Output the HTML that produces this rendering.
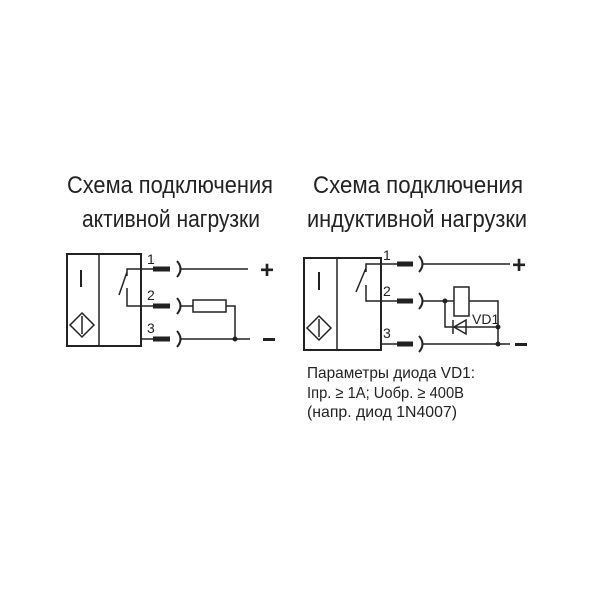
<!DOCTYPE html>
<html><head><meta charset="utf-8"><style>body{margin:0;background:#fff}svg{display:block}</style></head>
<body>
<svg width="600" height="600" viewBox="0 0 600 600" xmlns="http://www.w3.org/2000/svg" font-family="'Liberation Sans Narrow','Liberation Sans',sans-serif" fill="#222">
<g font-size="24">
<text x="67" y="193" textLength="206" lengthAdjust="spacingAndGlyphs">Схема подключения</text>
<text x="82" y="227" textLength="178" lengthAdjust="spacingAndGlyphs">активной нагрузки</text>
<text x="313" y="193" textLength="210" lengthAdjust="spacingAndGlyphs">Схема подключения</text>
<text x="307" y="227" textLength="220" lengthAdjust="spacingAndGlyphs">индуктивной нагрузки</text>
</g>
<g font-size="16">
<text x="307" y="378" textLength="168" lengthAdjust="spacingAndGlyphs">Параметры диода VD1:</text>
<text x="307" y="398" textLength="157" lengthAdjust="spacingAndGlyphs">Iпр. ≥ 1А; Uобр. ≥ 400В</text>
<text x="307" y="417" textLength="150" lengthAdjust="spacingAndGlyphs">(напр. диод 1N4007)</text>
</g>
<g stroke="#222" fill="none" stroke-width="1.5">
<rect x="67" y="254" width="74" height="92" stroke-width="2"/>
<line x1="99" y1="254" x2="99" y2="346"/>
<line x1="81" y1="270" x2="81" y2="287" stroke-width="2"/>
<path d="M82 313 L94 325 L82 337 L70 325 Z"/>
<line x1="82" y1="316" x2="82" y2="334"/>
<path d="M153 269 H127 V276 M127 272 L119 295 M127 288 V306 H153"/>
<line x1="141" y1="339" x2="153" y2="339"/>
<g stroke-width="5"><line x1="153" y1="269" x2="170" y2="269"/><line x1="153" y1="306" x2="170" y2="306"/><line x1="153" y1="339" x2="170" y2="339"/></g>
<g stroke-width="2"><path d="M177 261 Q184 269 177 277 M177 298 Q184 306 177 314 M177 331 Q184 339 177 347"/></g>
<line x1="181" y1="269" x2="248" y2="269"/>
<line x1="181" y1="306" x2="193" y2="306"/>
<rect x="193" y="300" width="33" height="12"/>
<path d="M226 306 H235 V339"/>
<line x1="181" y1="339" x2="250" y2="339"/>
<rect x="304" y="258" width="77" height="92" stroke-width="2"/>
<line x1="337" y1="258" x2="337" y2="350"/>
<line x1="319" y1="272" x2="319" y2="290" stroke-width="2"/>
<path d="M319 316 L331 328 L319 340 L307 328 Z"/>
<line x1="319" y1="319" x2="319" y2="337"/>
<path d="M397 264 H366 V272 M366 268 L356 292 M366 285 V301 H397"/>
<line x1="381" y1="344" x2="397" y2="344"/>
<g stroke-width="5"><line x1="397" y1="264" x2="413" y2="264"/><line x1="397" y1="301" x2="413" y2="301"/><line x1="397" y1="344" x2="413" y2="344"/></g>
<g stroke-width="2"><path d="M419 256 Q426 264 419 272 M419 293 Q426 301 419 309 M419 336 Q426 344 419 352"/></g>
<line x1="423" y1="264" x2="510" y2="264"/>
<line x1="423" y1="301" x2="454" y2="301"/>
<rect x="454" y="287" width="15" height="29"/>
<path d="M469 301 H498 V344"/>
<path d="M445 301 V327 H498"/>
<path d="M466 320 L466 334 L454 327 Z"/>
<line x1="453" y1="320" x2="453" y2="334"/>
<line x1="423" y1="344" x2="510" y2="344"/>
</g>
<g fill="#222">
<circle cx="235" cy="339" r="2.5"/>
<circle cx="445" cy="301" r="2.5"/><circle cx="498" cy="327" r="2.5"/><circle cx="498" cy="344" r="2.5"/>
</g>
<g font-family="'Liberation Sans',sans-serif" font-size="14">
<text x="147" y="264">1</text><text x="147" y="300">2</text><text x="147" y="333">3</text>
<text x="383" y="260">1</text><text x="383" y="296">2</text><text x="383" y="338">3</text>
<text x="472" y="324">VD1</text>
</g>
<g font-family="'Liberation Sans',sans-serif" font-size="24" font-weight="bold">
<text x="260" y="278">+</text><text x="512" y="273">+</text>
</g>
<rect x="263" y="338" width="12" height="3"/>
<rect x="515" y="343" width="12" height="3"/>
</svg>
</body></html>
